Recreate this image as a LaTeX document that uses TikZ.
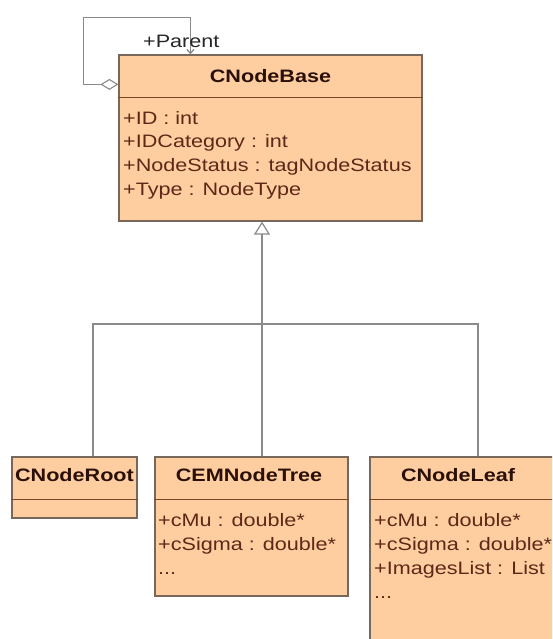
\documentclass[tikz,border=0pt]{standalone}
\usepackage{fontspec}
\setmainfont{Liberation Sans}[FakeStretch=1.2]
\usetikzlibrary{arrows.meta}

\definecolor{classfill}{RGB}{254,206,160}
\definecolor{boxedge}{RGB}{120,104,92}
\definecolor{sepline}{RGB}{122,70,38}
\definecolor{headtext}{RGB}{42,16,8}
\definecolor{attrtext}{RGB}{92,40,24}
\definecolor{linkgray}{RGB}{138,138,138}

\tikzset{
  classbox/.style={draw=boxedge, fill=classfill, line width=1.2pt,
    rectangle, inner sep=0pt},
  sepstroke/.style={draw=sepline, line width=1.4pt},
  headlabel/.style={inner sep=0pt, text=headtext,
    font=\fontsize{18}{23.5}\selectfont\bfseries},
  attrlabel/.style={inner sep=0pt, text=attrtext, anchor=base west,
    font=\fontsize{18}{23.5}\selectfont},
  link/.style={draw=linkgray, line width=1.3pt},
}

\begin{document}
\begin{tikzpicture}[x=1pt,y=-1pt]
\useasboundingbox (0,0) rectangle (552,639);
\clip (0,0) rectangle (552,639);

% class boxes
\node[classbox, minimum width=303pt, minimum height=166pt] (base) at (270.5,138) {};
\node[classbox, minimum width=125pt, minimum height=61pt] (root) at (74.5,487.5) {};
\node[classbox, minimum width=193pt, minimum height=139pt] (tree) at (251.5,526.5) {};
\node[classbox, minimum width=192pt, minimum height=193pt] (leaf) at (466,553.5) {};

% compartment separators
\foreach \c in {base,root,tree,leaf}
  \draw[sepstroke] ([yshift=-43pt]\c.north west) -- ([yshift=-43pt]\c.north east);

% CNodeBase
\node[headlabel, anchor=base] (baseT) at (270.5,82.5) {CNodeBase};
\node[attrlabel] (baseA1) at (123,124.5) {+ID : int};
\node[attrlabel] (baseA2) at (123,148) {+IDCategory : int};
\node[attrlabel] (baseA3) at (123,171.5) {+NodeStatus : tagNodeStatus};
\node[attrlabel] (baseA4) at (123,195) {+Type : NodeType};

% CNodeRoot
\node[headlabel, anchor=base] (rootT) at (74.5,481.5) {CNodeRoot};

% CEMNodeTree
\node[headlabel, anchor=base] (treeT) at (249,481.5) {CEMNodeTree};
\node[attrlabel] (treeA1) at (158,526.5) {+cMu : double*};
\node[attrlabel] (treeA2) at (158,550.5) {+cSigma : double*};
\node[attrlabel] (treeA3) at (158,574.5) {...};

% CNodeLeaf
\node[headlabel, anchor=base] (leafT) at (458,481.5) {CNodeLeaf};
\node[attrlabel] (leafA1) at (374,526.5) {+cMu : double*};
\node[attrlabel] (leafA2) at (374,550.5) {+cSigma : double*};
\node[attrlabel] (leafA3) at (374,574.5) {+ImagesList : List};
\node[attrlabel] (leafA4) at (374,598.5) {...};

% generalization tree
\coordinate (join) at (262,324);
\draw[link, -{Triangle[open, length=13pt, width=16pt, line width=1.2pt]}]
  (join) -- (base.south -| join);
\draw[link] (join) -| ([xshift=18.5pt]root.north);
\draw[link] (join) -- (tree.north -| join);
\draw[link] (join) -| ([xshift=12pt]leaf.north);

% self aggregation "+Parent"
\draw[link, {Diamond[open, length=18pt, width=11pt, line width=1.1pt]}-{Straight Barb[length=4pt, width=7pt]}]
  ([yshift=-30pt]base.north west) -- ++(-35,0)
  |- ([xshift=72pt, yshift=37pt]base.north west)
  -- ([xshift=72pt]base.north west);
\node[inner sep=0pt, anchor=base west, text=black!85,
  font=\fontsize{18}{23.5}\selectfont] (parentL) at (143,48) {+Parent};
\end{tikzpicture}
\end{document}
